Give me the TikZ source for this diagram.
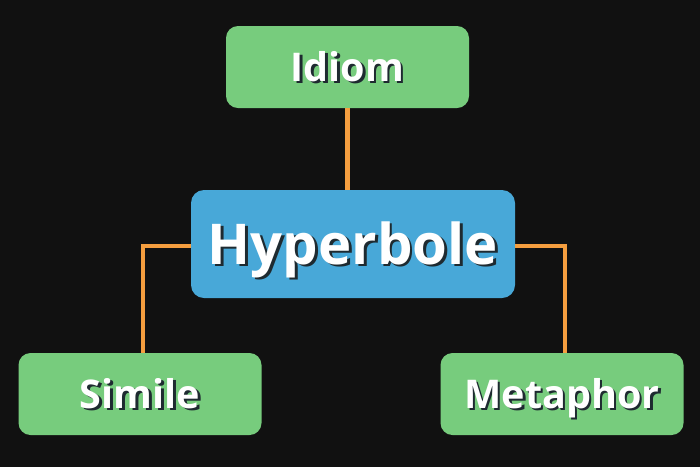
\documentclass[tikz,border=0pt]{standalone}
\usepackage{fontspec}
\setmainfont{Open Sans}
\usepackage{xcolor}
\usepackage{tikz}
\definecolor{bgdark}{HTML}{111111}
\definecolor{leafgreen}{HTML}{77CC7D}
\definecolor{rootblue}{HTML}{48A8D8}
\definecolor{linkorange}{HTML}{F59E3F}
\definecolor{shadowtext}{HTML}{1E2A30}
\newcommand{\shadowed}[1]{\makebox[0pt][l]{\hspace{1.4pt}\raisebox{-1.4pt}{\color{shadowtext}#1}}#1}

\begin{document}
\begin{tikzpicture}[
  leaf/.style={rectangle, rounded corners=0.24cm, fill=leafgreen,
               minimum width=4.86cm, minimum height=1.64cm, text=white,
               text height=16pt, text depth=0pt, inner ysep=0pt,
               font=\fontsize{22.5}{26}\selectfont\bfseries},
  root/.style={rectangle, rounded corners=0.26cm, fill=rootblue,
               minimum width=6.48cm, minimum height=2.16cm, text=white,
               text height=22.8pt, text depth=0pt, inner ysep=0pt,
               font=\fontsize{32}{36}\selectfont\bfseries},
  link/.style={draw=linkorange, line width=2.3pt},
]
  \fill[bgdark] (0, 0) rectangle (14, -9.34);
  \useasboundingbox (0, 0) rectangle (14, -9.34);

  \node[leaf] (idiom)  at (6.95, -1.34)  {\shadowed{Idiom}};
  \node[root] (hyper)  at (7.06, -4.88)  {\shadowed{Hyperbole}};
  \node[leaf] (simile) at (2.80, -7.88)  {\shadowed{Simile}};
  \node[leaf] (meta)   at (11.24, -7.88) {\shadowed{Metaphor}};

  \draw[link] (idiom.south) -- (idiom.south |- hyper.north);
  \draw[link] ([yshift=-0.04cm]hyper.west) -| ([xshift=0.06cm]simile.north);
  \draw[link] ([yshift=-0.04cm]hyper.east) -| ([xshift=0.06cm]meta.north);
\end{tikzpicture}
\end{document}
